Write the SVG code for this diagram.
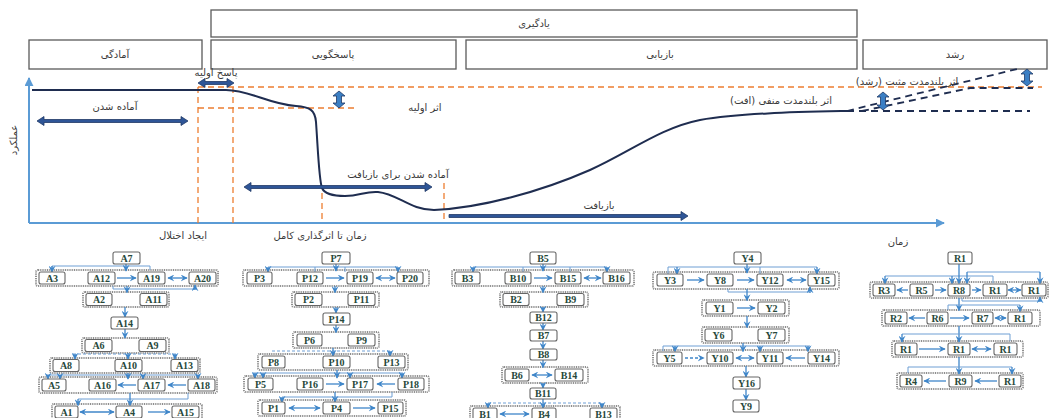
<svg xmlns="http://www.w3.org/2000/svg" width="1049" height="418" viewBox="0 0 1049 418">
<style>
.bx{fill:#fff;stroke:#5a5a5a;stroke-width:1.3}
.ft{font-family:"DejaVu Sans",sans-serif;font-size:10px;fill:#3a3a3a;text-anchor:middle}
.od{stroke:#ed7d31;stroke-width:1.3;stroke-dasharray:6 4;fill:none}
.bd{stroke:#1f2d50;stroke-width:1.8;stroke-dasharray:7 5;fill:none}
.nv{fill:#2e5597;stroke:#1f3864;stroke-width:0.8}
.va{fill:#3b7fc4;stroke:#1f3864;stroke-width:0.8}
.n rect{fill:#fff;stroke:#666;stroke-width:1.1}
.n text{font-family:"Liberation Serif",serif;font-weight:bold;font-size:10px;fill:#27483a;text-anchor:middle;dominant-baseline:central}
.fr rect{fill:none;stroke:#8e8e8e;stroke-width:2;stroke-dasharray:1 0.8}
.c{stroke:#3f86c9;stroke-width:1.3;fill:none}
.t{stroke:#6e9fd4;stroke-width:1;fill:none}
.dsh{stroke-dasharray:3 2}
</style>
<defs>
<marker id="ah" viewBox="0 0 10 10" refX="9" refY="5" markerWidth="7" markerHeight="7" markerUnits="userSpaceOnUse" orient="auto-start-reverse"><path d="M0,0 L10,5 L0,10 L3.5,5 z" fill="#3f86c9"/></marker>
<marker id="ax" viewBox="0 0 10 10" refX="9" refY="5" markerWidth="9" markerHeight="9" markerUnits="userSpaceOnUse" orient="auto"><path d="M0,0 L10,5 L0,10 z" fill="#5b9bd5"/></marker>
</defs>

<!-- header boxes -->
<g id="h-learning"><rect class="bx" x="211" y="10" width="646" height="27"/><text class="ft" x="534" y="27" direction="rtl">یادگیری</text></g>
<g id="h-prep"><rect class="bx" x="29" y="40" width="173" height="29"/><text class="ft" x="115" y="58" direction="rtl">آمادگی</text></g>
<g id="h-resp"><rect class="bx" x="211" y="40" width="245" height="29"/><text class="ft" x="333" y="58" direction="rtl">پاسخگویی</text></g>
<g id="h-recov"><rect class="bx" x="466" y="40" width="391" height="29"/><text class="ft" x="660" y="58" direction="rtl">بازیابی</text></g>
<g id="h-growth"><rect class="bx" x="863" y="40" width="184" height="29"/><text class="ft" x="955" y="58" direction="rtl">رشد</text></g>

<!-- chart -->
<g id="chart">
<line x1="29" y1="223" x2="29" y2="78" stroke="#5b9bd5" stroke-width="2" marker-end="url(#ax)"/>
<line x1="29" y1="223" x2="944" y2="223" stroke="#5b9bd5" stroke-width="2" marker-end="url(#ax)"/>
<path class="od" d="M198,87 H1042"/>
<path class="od" d="M198,108 H358"/>
<path class="od" d="M198,87 V223"/>
<path class="od" d="M233,87 V223"/>
<path class="od" d="M322,193 V223"/>
<path class="od" d="M444,183 V223"/>
<path d="M32,90 L226,90 C250,90 268,104 296,106 C310,107 315,110 316,122 C318,150 319,180 322,188 C325,195 335,196 345,196 C360,196 365,191 378,192 C398,194 410,210 434,210 C480,208 540,192 590,170 C630,152 660,128 700,120 C740,113 800,112 847,111" fill="none" stroke="#1f2d50" stroke-width="2"/>
<path class="bd" d="M847,111 H1030"/>
<path class="bd" d="M847,111 L1017,69"/>
<path class="bd" d="M862,111 L970,88 H1033"/>
<path class="nv" d="M198,83 L205,78.5 L205,81.5 L227,81.5 L227,78.5 L234,83 L227,87.5 L227,84.5 L205,84.5 L205,87.5 Z"/>
<path class="nv" d="M37,121 L44,116.5 L44,119.5 L181,119.5 L181,116.5 L188,121 L181,125.5 L181,122.5 L44,122.5 L44,125.5 Z"/>
<path class="nv" d="M244,187 L251,182.5 L251,185.5 L425,185.5 L425,182.5 L432,187 L425,191.5 L425,188.5 L251,188.5 L251,191.5 Z"/>
<path class="nv" d="M449,214.5 L681,214.5 L681,211.5 L688,216 L681,220.5 L681,217.5 L449,217.5 Z"/>
<path class="va" d="M339,91 L345,96 L341.5,96 L341.5,103 L345,103 L339,108 L333,103 L336.5,103 L336.5,96 L333,96 Z"/>
<path class="va" d="M883,92 L889,97 L885.5,97 L885.5,105 L889,105 L883,110 L877,105 L880.5,105 L880.5,97 L877,97 Z"/>
<path class="va" d="M1027,69 L1033,74 L1029.5,74 L1029.5,81 L1033,81 L1027,86 L1021,81 L1024.5,81 L1024.5,74 L1021,74 Z"/>
<text class="ft" x="216" y="76" direction="rtl">پاسخ اولیه</text>
<text class="ft" x="115" y="110" direction="rtl">آماده شدن</text>
<text class="ft" x="425" y="111" direction="rtl">اثر اولیه</text>
<text class="ft" x="398" y="178" direction="rtl">آماده شدن برای بازیافت</text>
<text class="ft" x="599" y="209" direction="rtl">بازیافت</text>
<text class="ft" x="183" y="239" direction="rtl">ایجاد اختلال</text>
<text class="ft" x="320" y="239" direction="rtl">زمان تا اثرگذاری کامل</text>
<text class="ft" x="898" y="245" direction="rtl">زمان</text>
<text class="ft" x="781" y="104" direction="rtl">اثر بلندمدت منفی (افت)</text>
<text class="ft" x="907" y="85" direction="rtl">اثر بلندمدت مثبت (رشد)</text>
<text class="ft" transform="translate(17,140) rotate(-90)" direction="rtl">عملکرد</text>
</g>

<!-- row frames -->
<g class="fr" id="frames">
<rect x="36" y="270" width="182" height="16" rx="2"/>
<rect x="83" y="292" width="86" height="15" rx="2"/>
<rect x="82" y="338" width="87" height="15" rx="2"/>
<rect x="50" y="358" width="150" height="15" rx="2"/>
<rect x="39" y="377" width="178" height="16" rx="2"/>
<rect x="52" y="404" width="150" height="16" rx="2"/>
<rect x="243" y="270" width="186" height="16" rx="2"/>
<rect x="292" y="292" width="87" height="15" rx="2"/>
<rect x="293" y="332" width="86" height="16" rx="2"/>
<rect x="258" y="354" width="150" height="16" rx="2"/>
<rect x="244" y="376" width="185" height="16" rx="2"/>
<rect x="258" y="400" width="148" height="16" rx="2"/>
<rect x="452" y="270" width="182" height="16" rx="2"/>
<rect x="500" y="292" width="88" height="15" rx="2"/>
<rect x="502" y="367" width="86" height="16" rx="2"/>
<rect x="470" y="406" width="150" height="16" rx="2"/>
<rect x="653" y="272" width="186" height="17" rx="2"/>
<rect x="702" y="300" width="87" height="16" rx="2"/>
<rect x="702" y="327" width="87" height="16" rx="2"/>
<rect x="653" y="350" width="186" height="16" rx="2"/>
<rect x="870" y="282" width="178" height="16" rx="2"/>
<rect x="882" y="310" width="158" height="16" rx="2"/>
<rect x="892" y="341" width="131" height="16" rx="2"/>
<rect x="897" y="373" width="126" height="16" rx="2"/>
</g>

<!-- connectors -->
<g id="connectors">
<!-- A -->
<path class="t" d="M52,271 V266 H150 V270"/>
<path class="c" d="M52,266 V272" marker-end="url(#ah)"/>
<path class="c" d="M126,264 V271" marker-end="url(#ah)"/>
<path class="c" d="M117,278 H136" marker-end="url(#ah)"/>
<path class="c" d="M168,278 H187" marker-start="url(#ah)" marker-end="url(#ah)"/>
<path class="t" d="M113,286 V289 H195"/>
<path class="c" d="M195,290 V285" marker-end="url(#ah)"/>
<path class="c" d="M127,286 V292.5" marker-end="url(#ah)"/>
<path class="c" d="M125,307 V317" marker-end="url(#ah)"/>
<path class="c" d="M125,329 V338" marker-end="url(#ah)"/>
<path class="t dsh" d="M73,354 H177"/>
<path class="c" d="M75,354 V359" marker-end="url(#ah)"/>
<path class="c" d="M128,353 V359" marker-end="url(#ah)"/>
<path class="c" d="M175,354 V359" marker-end="url(#ah)"/>
<path class="t" d="M47,375 H200"/>
<path class="c" d="M48,375 V379" marker-end="url(#ah)"/>
<path class="c" d="M60,375 V379" marker-end="url(#ah)"/>
<path class="c" d="M128,373 V379" marker-end="url(#ah)"/>
<path class="c" d="M143,375 V379" marker-end="url(#ah)"/>
<path class="c" d="M198,375 V379" marker-end="url(#ah)"/>
<path class="c" d="M136,385 H118" marker-end="url(#ah)"/>
<path class="c" d="M186,385 H168" marker-end="url(#ah)"/>
<path class="t" d="M78,399 H188 V393"/>
<path class="c" d="M78,399 V405.5" marker-end="url(#ah)"/>
<path class="c" d="M130,393 V405.5" marker-end="url(#ah)"/>
<path class="c" d="M80,412 H114" marker-start="url(#ah)" marker-end="url(#ah)"/>
<path class="c" d="M148,412 H170" marker-end="url(#ah)"/>
<!-- P -->
<path class="t" d="M268,267 H398 M315,267 V272 M345,267 V272"/>
<path class="c" d="M268,267 V272" marker-end="url(#ah)"/>
<path class="c" d="M398,267 V272" marker-end="url(#ah)"/>
<path class="c" d="M336,264 V271" marker-end="url(#ah)"/>
<path class="c" d="M326,278 H344" marker-end="url(#ah)"/>
<path class="c" d="M376,278 H395" marker-start="url(#ah)" marker-end="url(#ah)"/>
<path class="c" d="M335,286 V292.5" marker-end="url(#ah)"/>
<path class="c" d="M336,307 V313" marker-end="url(#ah)"/>
<path class="c" d="M336,325 V332.5" marker-end="url(#ah)"/>
<path class="t dsh" d="M272,351 H390"/>
<path class="c" d="M333,348 V356" marker-end="url(#ah)"/>
<path class="c" d="M390,351 V356" marker-end="url(#ah)"/>
<path class="t" d="M253,373 H403"/>
<path class="c" d="M255,373 V378" marker-end="url(#ah)"/>
<path class="c" d="M263,373 V378" marker-end="url(#ah)"/>
<path class="c" d="M337,370 V378" marker-end="url(#ah)"/>
<path class="c" d="M350,373 V378" marker-end="url(#ah)"/>
<path class="c" d="M402,373 V378" marker-end="url(#ah)"/>
<path class="c" d="M326,384 H344" marker-end="url(#ah)"/>
<path class="c" d="M395,384 H377" marker-end="url(#ah)"/>
<path class="t" d="M282,397 H392 V392"/>
<path class="c" d="M282,397 V402" marker-end="url(#ah)"/>
<path class="c" d="M335,392 V402" marker-end="url(#ah)"/>
<path class="c" d="M289,408 H320" marker-start="url(#ah)" marker-end="url(#ah)"/>
<path class="c" d="M353,408 H375" marker-end="url(#ah)"/>
<!-- B -->
<path class="t" d="M473,267 H607 M523,267 V272 M570,267 V272"/>
<path class="c" d="M473,267 V272" marker-end="url(#ah)"/>
<path class="c" d="M607,267 V272" marker-end="url(#ah)"/>
<path class="c" d="M543,264 V271" marker-end="url(#ah)"/>
<path class="c" d="M534,278 H552" marker-end="url(#ah)"/>
<path class="c" d="M584,278 H601" marker-start="url(#ah)" marker-end="url(#ah)"/>
<path class="c" d="M543,286 V292.5" marker-end="url(#ah)"/>
<path class="c" d="M543,307 V312" marker-end="url(#ah)"/>
<path class="c" d="M543,323 V330" marker-end="url(#ah)"/>
<path class="c" d="M543,341 V349" marker-end="url(#ah)"/>
<path class="c" d="M543,360 V367.5" marker-end="url(#ah)"/>
<path class="c" d="M532,375 H552" marker-start="url(#ah)" marker-end="url(#ah)"/>
<path class="c" d="M543,383 V388" marker-end="url(#ah)"/>
<path class="t dsh" d="M488,403 H602"/>
<path class="c" d="M488,403 V408" marker-end="url(#ah)"/>
<path class="c" d="M543,399 V408" marker-end="url(#ah)"/>
<path class="c" d="M602,403 V408" marker-end="url(#ah)"/>
<path class="c" d="M500,414 H529" marker-start="url(#ah)" marker-end="url(#ah)"/>
<!-- Y -->
<path class="t" d="M668,274 V267 H817 M760,267 V274"/>
<path class="c" d="M677,267 V274" marker-end="url(#ah)"/>
<path class="c" d="M817,267 V274" marker-end="url(#ah)"/>
<path class="c" d="M747,264 V273" marker-end="url(#ah)"/>
<path class="c" d="M687,280 H704" marker-end="url(#ah)"/>
<path class="c" d="M737,280 H754" marker-end="url(#ah)"/>
<path class="c" d="M787,280 H806" marker-start="url(#ah)" marker-end="url(#ah)"/>
<path class="t" d="M728,289 V292 H810"/>
<path class="c" d="M810,293 V287" marker-end="url(#ah)"/>
<path class="c" d="M747,289 V300.5" marker-end="url(#ah)"/>
<path class="c" d="M737,308 H755" marker-end="url(#ah)"/>
<path class="c" d="M747,316 V327.5" marker-end="url(#ah)"/>
<path class="t" d="M663,351 V346 H810"/>
<path class="c" d="M675,346 V351.5" marker-end="url(#ah)"/>
<path class="c" d="M743,343 V351.5" marker-end="url(#ah)"/>
<path class="c" d="M760,346 V351.5" marker-end="url(#ah)"/>
<path class="c" d="M808,346 V351.5" marker-end="url(#ah)"/>
<path class="c dsh" d="M685,358 H704" marker-end="url(#ah)"/>
<path class="c" d="M736,358 H754" marker-start="url(#ah)" marker-end="url(#ah)"/>
<path class="c" d="M805,358 H786" marker-end="url(#ah)"/>
<path class="c" d="M746,366 V377" marker-end="url(#ah)"/>
<path class="c" d="M746,389 V400" marker-end="url(#ah)"/>
<!-- R -->
<path class="t" d="M885,276 H993 V283"/>
<path class="c" d="M885,276 V283.5" marker-end="url(#ah)"/>
<path class="c" d="M952,276 V283.5" marker-end="url(#ah)"/>
<path class="c" d="M959,264 V283.5" marker-end="url(#ah)"/>
<path class="t" d="M967,272 H1040"/>
<path class="c" d="M967,272 V283.5" marker-end="url(#ah)"/>
<path class="c" d="M1040,272 V283.5" marker-end="url(#ah)"/>
<path class="c" d="M908,290 H897" marker-end="url(#ah)"/>
<path class="c" d="M935,290 H946" marker-end="url(#ah)"/>
<path class="c" d="M972,290 H981" marker-end="url(#ah)"/>
<path class="c" d="M1008,290 H1021" marker-start="url(#ah)" marker-end="url(#ah)"/>
<path class="t" d="M962,298 V301 H1040"/>
<path class="c" d="M1040,302 V297" marker-end="url(#ah)"/>
<path class="c" d="M959,298 V310.5" marker-end="url(#ah)"/>
<path class="t" d="M948,310 V305 H1020"/>
<path class="c" d="M1020,305 V311.5" marker-end="url(#ah)"/>
<path class="c" d="M925,318 H909" marker-end="url(#ah)"/>
<path class="c" d="M950,318 H969" marker-end="url(#ah)"/>
<path class="c" d="M995,318 H1006" marker-start="url(#ah)" marker-end="url(#ah)"/>
<path class="c" d="M959,326 V342" marker-end="url(#ah)"/>
<path class="t" d="M902,334 H1010 V341"/>
<path class="c" d="M902,334 V342" marker-end="url(#ah)"/>
<path class="c" d="M919,349 H945" marker-end="url(#ah)"/>
<path class="c" d="M972,349 H991" marker-start="url(#ah)" marker-end="url(#ah)"/>
<path class="c" d="M959,357 V374" marker-end="url(#ah)"/>
<path class="t" d="M908,373 V367 H1012"/>
<path class="c" d="M1012,367 V374" marker-end="url(#ah)"/>
<path class="c" d="M946,381 H924" marker-end="url(#ah)"/>
<path class="c" d="M997,381 H975" marker-end="url(#ah)"/>
</g>

<!-- nodes A -->
<g id="A7" class="n"><rect x="113" y="252" width="27" height="12" rx="2"/><text x="126.5" y="258">A7</text></g>
<g id="A3" class="n"><rect x="39" y="272" width="26" height="12" rx="2"/><text x="52" y="278">A3</text></g>
<g id="A12" class="n"><rect x="88" y="272" width="27" height="12" rx="2"/><text x="101.5" y="278">A12</text></g>
<g id="A19" class="n"><rect x="138" y="272" width="27" height="12" rx="2"/><text x="151.5" y="278">A19</text></g>
<g id="A20" class="n"><rect x="189" y="272" width="27" height="12" rx="2"/><text x="202.5" y="278">A20</text></g>
<g id="A2" class="n"><rect x="86" y="293.5" width="26" height="12" rx="2"/><text x="99" y="299.5">A2</text></g>
<g id="A11" class="n"><rect x="140" y="293.5" width="27" height="12" rx="2"/><text x="153.5" y="299.5">A11</text></g>
<g id="A14" class="n"><rect x="111" y="317" width="27" height="12" rx="2"/><text x="124.5" y="323">A14</text></g>
<g id="A6" class="n"><rect x="85" y="339.5" width="27" height="12" rx="2"/><text x="98.5" y="345.5">A6</text></g>
<g id="A9" class="n"><rect x="139" y="339.5" width="27" height="12" rx="2"/><text x="152.5" y="345.5">A9</text></g>
<g id="A8" class="n"><rect x="53" y="359.5" width="26" height="12" rx="2"/><text x="66" y="365.5">A8</text></g>
<g id="A10" class="n"><rect x="115" y="359.5" width="27" height="12" rx="2"/><text x="128.5" y="365.5">A10</text></g>
<g id="A13" class="n"><rect x="171" y="359.5" width="27" height="12" rx="2"/><text x="184.5" y="365.5">A13</text></g>
<g id="A5" class="n"><rect x="42" y="379" width="24" height="12" rx="2"/><text x="54" y="385">A5</text></g>
<g id="A16" class="n"><rect x="89" y="379" width="27" height="12" rx="2"/><text x="102.5" y="385">A16</text></g>
<g id="A17" class="n"><rect x="138" y="379" width="27" height="12" rx="2"/><text x="151.5" y="385">A17</text></g>
<g id="A18" class="n"><rect x="188" y="379" width="27" height="12" rx="2"/><text x="201.5" y="385">A18</text></g>
<g id="A1" class="n"><rect x="55" y="406" width="23" height="12" rx="2"/><text x="66.5" y="412">A1</text></g>
<g id="A4" class="n"><rect x="116" y="406" width="26" height="12" rx="2"/><text x="129" y="412">A4</text></g>
<g id="A15" class="n"><rect x="172" y="406" width="27" height="12" rx="2"/><text x="185.5" y="412">A15</text></g>

<!-- nodes P -->
<g id="P7" class="n"><rect x="322" y="252" width="28" height="12" rx="2"/><text x="336" y="258">P7</text></g>
<g id="P3" class="n"><rect x="247" y="272" width="25" height="12" rx="2"/><text x="259.5" y="278">P3</text></g>
<g id="P12" class="n"><rect x="297" y="272" width="26" height="12" rx="2"/><text x="310" y="278">P12</text></g>
<g id="P19" class="n"><rect x="347" y="272" width="26" height="12" rx="2"/><text x="360" y="278">P19</text></g>
<g id="P20" class="n"><rect x="397" y="272" width="26" height="12" rx="2"/><text x="410" y="278">P20</text></g>
<g id="P2" class="n"><rect x="295" y="293.5" width="27" height="12" rx="2"/><text x="308.5" y="299.5">P2</text></g>
<g id="P11" class="n"><rect x="348" y="293.5" width="27" height="12" rx="2"/><text x="361.5" y="299.5">P11</text></g>
<g id="P14" class="n"><rect x="323" y="313" width="27" height="12" rx="2"/><text x="336.5" y="319">P14</text></g>
<g id="P6" class="n"><rect x="297" y="334" width="25" height="12" rx="2"/><text x="309.5" y="340">P6</text></g>
<g id="P9" class="n"><rect x="348" y="334" width="27" height="12" rx="2"/><text x="361.5" y="340">P9</text></g>
<g id="P8" class="n"><rect x="262" y="356" width="23" height="12" rx="2"/><text x="273.5" y="362">P8</text></g>
<g id="P10" class="n"><rect x="323" y="356" width="27" height="12" rx="2"/><text x="336.5" y="362">P10</text></g>
<g id="P13" class="n"><rect x="378" y="356" width="27" height="12" rx="2"/><text x="391.5" y="362">P13</text></g>
<g id="P5" class="n"><rect x="248" y="378" width="25" height="12" rx="2"/><text x="260.5" y="384">P5</text></g>
<g id="P16" class="n"><rect x="297" y="378" width="26" height="12" rx="2"/><text x="310" y="384">P16</text></g>
<g id="P17" class="n"><rect x="347" y="378" width="26" height="12" rx="2"/><text x="360" y="384">P17</text></g>
<g id="P18" class="n"><rect x="398" y="378" width="26" height="12" rx="2"/><text x="411" y="384">P18</text></g>
<g id="P1" class="n"><rect x="262" y="402" width="23" height="12" rx="2"/><text x="273.5" y="408">P1</text></g>
<g id="P4" class="n"><rect x="323" y="402" width="27" height="12" rx="2"/><text x="336.5" y="408">P4</text></g>
<g id="P15" class="n"><rect x="378" y="402" width="25" height="12" rx="2"/><text x="390.5" y="408">P15</text></g>

<!-- nodes B -->
<g id="B5" class="n"><rect x="530" y="252" width="26" height="12" rx="2"/><text x="543" y="258">B5</text></g>
<g id="B3" class="n"><rect x="455" y="272" width="25" height="12" rx="2"/><text x="467.5" y="278">B3</text></g>
<g id="B10" class="n"><rect x="505" y="272" width="26" height="12" rx="2"/><text x="518" y="278">B10</text></g>
<g id="B15" class="n"><rect x="555" y="272" width="26" height="12" rx="2"/><text x="568" y="278">B15</text></g>
<g id="B16" class="n"><rect x="603" y="272" width="27" height="12" rx="2"/><text x="616.5" y="278">B16</text></g>
<g id="B2" class="n"><rect x="503" y="293.5" width="26" height="12" rx="2"/><text x="516" y="299.5">B2</text></g>
<g id="B9" class="n"><rect x="557" y="293.5" width="27" height="12" rx="2"/><text x="570.5" y="299.5">B9</text></g>
<g id="B12" class="n"><rect x="530" y="312" width="27" height="11" rx="2"/><text x="543.5" y="317.5">B12</text></g>
<g id="B7" class="n"><rect x="530" y="330" width="27" height="11" rx="2"/><text x="543.5" y="335.5">B7</text></g>
<g id="B8" class="n"><rect x="530" y="349" width="27" height="11" rx="2"/><text x="543.5" y="354.5">B8</text></g>
<g id="B6" class="n"><rect x="505" y="369" width="24" height="12" rx="2"/><text x="517" y="375">B6</text></g>
<g id="B14" class="n"><rect x="555" y="369" width="28" height="12" rx="2"/><text x="569" y="375">B14</text></g>
<g id="B11" class="n"><rect x="530" y="388" width="26" height="11" rx="2"/><text x="543" y="393.5">B11</text></g>
<g id="B1" class="n"><rect x="473" y="408" width="24" height="12" rx="2"/><text x="485" y="414">B1</text></g>
<g id="B4" class="n"><rect x="532" y="408" width="24" height="12" rx="2"/><text x="544" y="414">B4</text></g>
<g id="B13" class="n"><rect x="590" y="408" width="27" height="12" rx="2"/><text x="603.5" y="414">B13</text></g>

<!-- nodes Y -->
<g id="Y4" class="n"><rect x="734" y="252" width="27" height="12" rx="2"/><text x="747.5" y="258">Y4</text></g>
<g id="Y3" class="n"><rect x="657" y="274" width="26" height="12" rx="2"/><text x="670" y="280">Y3</text></g>
<g id="Y8" class="n"><rect x="707" y="274" width="26" height="12" rx="2"/><text x="720" y="280">Y8</text></g>
<g id="Y12" class="n"><rect x="757" y="274" width="26" height="12" rx="2"/><text x="770" y="280">Y12</text></g>
<g id="Y15" class="n"><rect x="808" y="274" width="27" height="12" rx="2"/><text x="821.5" y="280">Y15</text></g>
<g id="Y1" class="n"><rect x="706" y="302" width="27" height="12" rx="2"/><text x="719.5" y="308">Y1</text></g>
<g id="Y2" class="n"><rect x="758" y="302" width="27" height="12" rx="2"/><text x="771.5" y="308">Y2</text></g>
<g id="Y6" class="n"><rect x="705" y="329" width="27" height="12" rx="2"/><text x="718.5" y="335">Y6</text></g>
<g id="Y7" class="n"><rect x="758" y="329" width="27" height="12" rx="2"/><text x="771.5" y="335">Y7</text></g>
<g id="Y5" class="n"><rect x="657" y="352" width="25" height="12" rx="2"/><text x="669.5" y="358">Y5</text></g>
<g id="Y10" class="n"><rect x="707" y="352" width="26" height="12" rx="2"/><text x="720" y="358">Y10</text></g>
<g id="Y11" class="n"><rect x="757" y="352" width="26" height="12" rx="2"/><text x="770" y="358">Y11</text></g>
<g id="Y14" class="n"><rect x="808" y="352" width="27" height="12" rx="2"/><text x="821.5" y="358">Y14</text></g>
<g id="Y16" class="n"><rect x="733" y="377" width="27" height="12" rx="2"/><text x="746.5" y="383">Y16</text></g>
<g id="Y9" class="n"><rect x="733" y="400" width="26" height="12" rx="2"/><text x="746" y="406">Y9</text></g>

<!-- nodes R -->
<g id="R1-top" class="n"><rect x="948" y="252" width="24" height="12" rx="2"/><text x="960" y="258">R1</text></g>
<g id="R3" class="n"><rect x="873" y="284" width="22" height="12" rx="2"/><text x="884" y="290">R3</text></g>
<g id="R5" class="n"><rect x="910" y="284" width="23" height="12" rx="2"/><text x="921.5" y="290">R5</text></g>
<g id="R8" class="n"><rect x="948" y="284" width="22" height="12" rx="2"/><text x="959" y="290">R8</text></g>
<g id="R1-a" class="n"><rect x="983" y="284" width="24" height="12" rx="2"/><text x="995" y="290">R1</text></g>
<g id="R1-b" class="n"><rect x="1022" y="284" width="24" height="12" rx="2"/><text x="1034" y="290">R1</text></g>
<g id="R2" class="n"><rect x="885" y="312" width="22" height="12" rx="2"/><text x="896" y="318">R2</text></g>
<g id="R6" class="n"><rect x="927" y="312" width="21" height="12" rx="2"/><text x="937.5" y="318">R6</text></g>
<g id="R7" class="n"><rect x="972" y="312" width="21" height="12" rx="2"/><text x="982.5" y="318">R7</text></g>
<g id="R1-c" class="n"><rect x="1008" y="312" width="24" height="12" rx="2"/><text x="1020" y="318">R1</text></g>
<g id="R1-d" class="n"><rect x="895" y="343" width="22" height="12" rx="2"/><text x="906" y="349">R1</text></g>
<g id="R1-e" class="n"><rect x="948" y="343" width="22" height="12" rx="2"/><text x="959" y="349">R1</text></g>
<g id="R1-f" class="n"><rect x="994" y="343" width="23" height="12" rx="2"/><text x="1005.5" y="349">R1</text></g>
<g id="R4" class="n"><rect x="900" y="375" width="22" height="12" rx="2"/><text x="911" y="381">R4</text></g>
<g id="R9" class="n"><rect x="949" y="375" width="23" height="12" rx="2"/><text x="960.5" y="381">R9</text></g>
<g id="R1-g" class="n"><rect x="999" y="375" width="22" height="12" rx="2"/><text x="1010" y="381">R1</text></g>
</svg>
